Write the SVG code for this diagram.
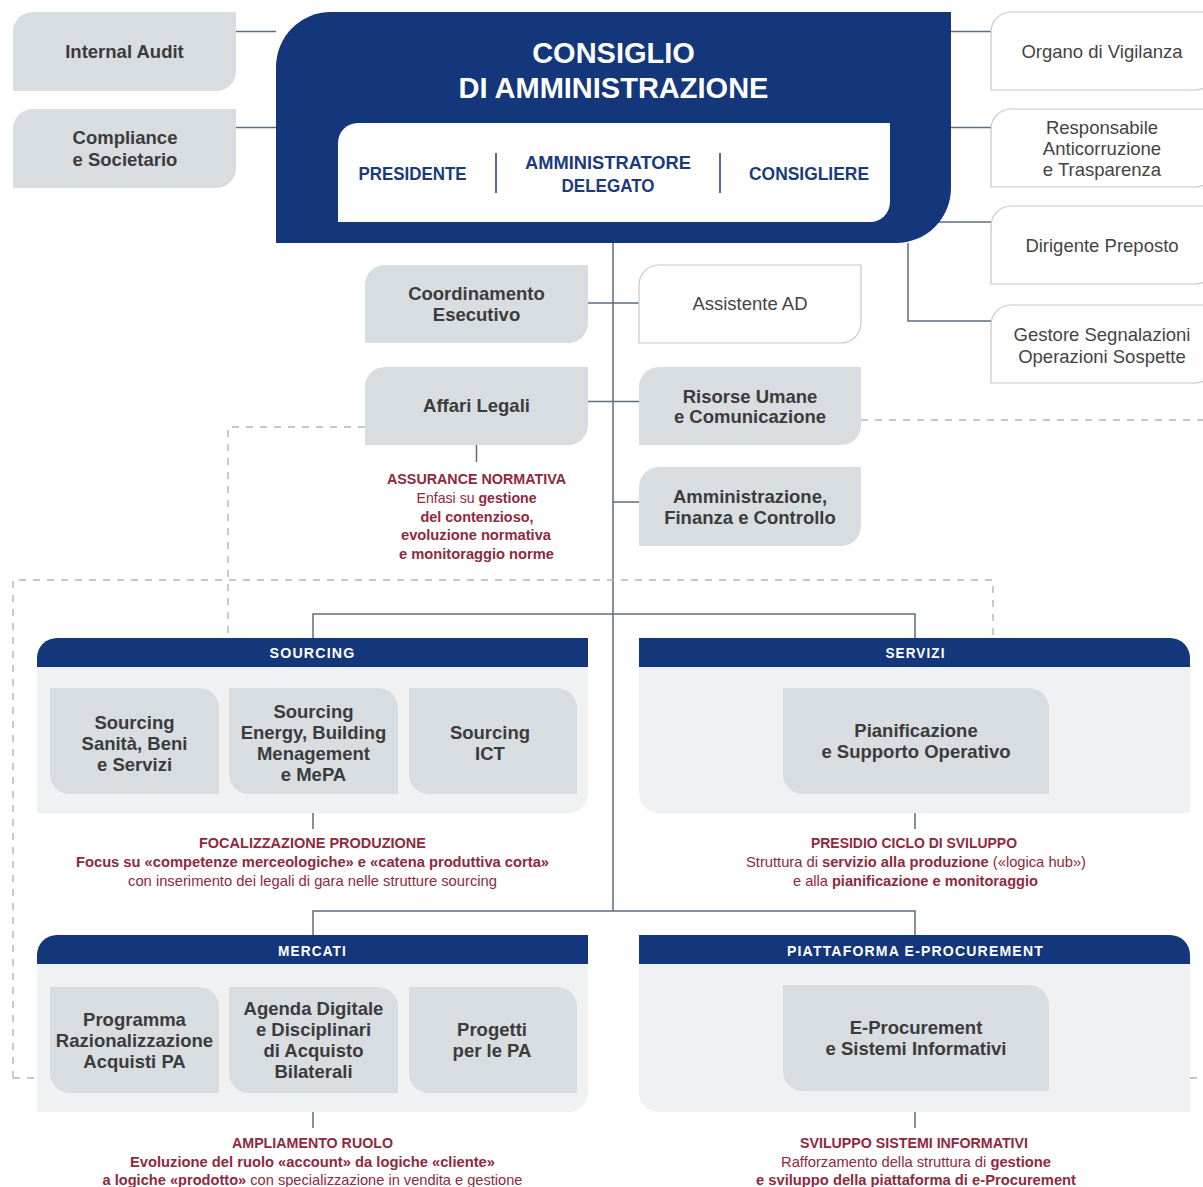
<svg xmlns="http://www.w3.org/2000/svg" width="1203" height="1187" viewBox="0 0 1203 1187">
<style>
text{font-family:"Liberation Sans",Arial,sans-serif;text-anchor:middle}
.nb{font-weight:bold;font-size:18.5px;fill:#3b3b3b}
.nr{font-size:18.5px;fill:#444}
.tt{font-weight:bold;font-size:29px;fill:#fff}
.cd{font-weight:bold;font-size:18px;fill:#1b3a7e}
.hd{font-weight:bold;font-size:14.5px;fill:#fff;letter-spacing:1.2px}
.rt{font-size:14.5px;fill:#8d2a3f}
.b{font-weight:bold}
.grey{fill:#d8dde2}
.wbox{fill:#fff;stroke:#c3c8ce;stroke-width:1.2}
.navy{fill:#14367b}
.panel{fill:#f0f1f3}
.ln{fill:none;stroke:#5f6e7e;stroke-width:1.5}
.ds{fill:none;stroke:#aeb5bf;stroke-width:1.4;stroke-dasharray:7 7}
.sep{stroke:#1b3a7e;stroke-width:1.5}
</style>

<g id="connectors">
<path class="ln" d="M236,31.5H276M236,127.5H276M951,31.5H991M951,127.5H991M930,222H991M908,243V321H991M613,243V911M588,303H639M588,401.5H639M613,502H639M476.5,445V462M313,638V614H915V638M313,935V911H915V935M313,813V829M915,813V829M313,1112V1128M915,1112V1128"/>
<path class="ds" d="M365,427H228V638M13,1078V580H993V638M13,1078H37M861,420H1203M1190,1078H1203"/>
</g>

<g id="internal-audit">
<path class="grey" d="M13,32A20,20 0 0 1 33,12H236V71A20,20 0 0 1 216,91H13Z"/>
<text class="nb" x="124.5" y="58">Internal Audit</text>
</g>
<g id="compliance">
<path class="grey" d="M13,129A20,20 0 0 1 33,109H236V168A20,20 0 0 1 216,188H13Z"/>
<text class="nb" x="125" y="144">Compliance</text>
<text class="nb" x="125" y="165.5">e Societario</text>
</g>

<g id="cda">
<path class="navy" d="M276,67A55,55 0 0 1 331,12H951V188A55,55 0 0 1 896,243H276Z"/>
<text class="tt" x="613.5" y="63">CONSIGLIO</text>
<text class="tt" x="613.5" y="98">DI AMMINISTRAZIONE</text>
<path fill="#fff" d="M338,143A20,20 0 0 1 358,123H890V202A20,20 0 0 1 870,222H338Z"/>
<text class="cd" x="412.5" y="180" textLength="108" lengthAdjust="spacingAndGlyphs">PRESIDENTE</text>
<line class="sep" x1="496" y1="153" x2="496" y2="193"/>
<text class="cd" x="608" y="168.5" textLength="166" lengthAdjust="spacingAndGlyphs">AMMINISTRATORE</text>
<text class="cd" x="608" y="191.7" textLength="93" lengthAdjust="spacingAndGlyphs">DELEGATO</text>
<line class="sep" x1="720" y1="153" x2="720" y2="193"/>
<text class="cd" x="809" y="180" textLength="120" lengthAdjust="spacingAndGlyphs">CONSIGLIERE</text>
</g>

<g id="organo-vigilanza">
<path class="wbox" d="M991,32A20,20 0 0 1 1011,12H1215V70A20,20 0 0 1 1195,90H991Z"/>
<text class="nr" x="1102" y="58">Organo di Vigilanza</text>
</g>
<g id="anticorruzione">
<path class="wbox" d="M991,129A20,20 0 0 1 1011,109H1215V167A20,20 0 0 1 1195,187H991Z"/>
<text class="nr" x="1102" y="133.5">Responsabile</text>
<text class="nr" x="1102" y="155">Anticorruzione</text>
<text class="nr" x="1102" y="175.5">e Trasparenza</text>
</g>
<g id="dirigente-preposto">
<path class="wbox" d="M991,226A20,20 0 0 1 1011,206H1215V264A20,20 0 0 1 1195,284H991Z"/>
<text class="nr" x="1102" y="251.5">Dirigente Preposto</text>
</g>
<g id="gestore-segnalazioni">
<path class="wbox" d="M991,325A20,20 0 0 1 1011,305H1215V363A20,20 0 0 1 1195,383H991Z"/>
<text class="nr" x="1102" y="340.5">Gestore Segnalazioni</text>
<text class="nr" x="1102" y="362.5">Operazioni Sospette</text>
</g>

<g id="coordinamento">
<path class="grey" d="M365,285A20,20 0 0 1 385,265H588V323A20,20 0 0 1 568,343H365Z"/>
<text class="nb" x="476.5" y="300">Coordinamento</text>
<text class="nb" x="476.5" y="320.7">Esecutivo</text>
</g>
<g id="assistente-ad">
<path class="wbox" d="M639,285A20,20 0 0 1 659,265H861V323A20,20 0 0 1 841,343H639Z"/>
<text class="nr" x="750" y="310">Assistente AD</text>
</g>
<g id="affari-legali">
<path class="grey" d="M365,387A20,20 0 0 1 385,367H588V425A20,20 0 0 1 568,445H365Z"/>
<text class="nb" x="476.5" y="412">Affari Legali</text>
</g>
<g id="risorse-umane">
<path class="grey" d="M639,387A20,20 0 0 1 659,367H861V425A20,20 0 0 1 841,445H639Z"/>
<text class="nb" x="750" y="402.5">Risorse Umane</text>
<text class="nb" x="750" y="423.3">e Comunicazione</text>
</g>
<g id="amministrazione">
<path class="grey" d="M639,487A20,20 0 0 1 659,467H861V526A20,20 0 0 1 841,546H639Z"/>
<text class="nb" x="750" y="502.5">Amministrazione,</text>
<text class="nb" x="750" y="524">Finanza e Controllo</text>
</g>

<g id="assurance-note">
<text class="rt b" x="476.5" y="484" textLength="179" lengthAdjust="spacingAndGlyphs">ASSURANCE NORMATIVA</text>
<text class="rt" x="476.5" y="502.5" textLength="120" lengthAdjust="spacingAndGlyphs">Enfasi su <tspan class="b">gestione</tspan></text>
<text class="rt b" x="477" y="521.5" textLength="113" lengthAdjust="spacingAndGlyphs">del contenzioso,</text>
<text class="rt b" x="476" y="540" textLength="150" lengthAdjust="spacingAndGlyphs">evoluzione normativa</text>
<text class="rt b" x="476.5" y="558.5" textLength="155" lengthAdjust="spacingAndGlyphs">e monitoraggio norme</text>
</g>

<g id="sourcing">
<path class="panel" d="M37,667H588V793A20,20 0 0 1 568,813H37Z"/>
<path class="navy" d="M37,667V658A20,20 0 0 1 57,638H588V667Z"/>
<text class="hd" x="312.5" y="658" textLength="86" lengthAdjust="spacingAndGlyphs">SOURCING</text>
<g id="sourcing-sanita">
<path class="grey" d="M50,688H199A20,20 0 0 1 219,708V794H70A20,20 0 0 1 50,774Z"/>
<text class="nb" x="134.5" y="729.3">Sourcing</text>
<text class="nb" x="134.5" y="750">Sanità, Beni</text>
<text class="nb" x="134.5" y="770.7">e Servizi</text>
</g>
<g id="sourcing-energy">
<path class="grey" d="M229,688H378A20,20 0 0 1 398,708V794H249A20,20 0 0 1 229,774Z"/>
<text class="nb" x="313.5" y="718.3">Sourcing</text>
<text class="nb" x="313.5" y="739.3">Energy, Building</text>
<text class="nb" x="313.5" y="760">Menagement</text>
<text class="nb" x="313.5" y="781">e MePA</text>
</g>
<g id="sourcing-ict">
<path class="grey" d="M409,688H557A20,20 0 0 1 577,708V794H429A20,20 0 0 1 409,774Z"/>
<text class="nb" x="490" y="739.3">Sourcing</text>
<text class="nb" x="490" y="760">ICT</text>
</g>
</g>
<g id="sourcing-note">
<text class="rt b" x="312.5" y="848" textLength="227" lengthAdjust="spacingAndGlyphs">FOCALIZZAZIONE PRODUZIONE</text>
<text class="rt b" x="312.5" y="866.5" textLength="473" lengthAdjust="spacingAndGlyphs">Focus su «competenze merceologiche» e «catena produttiva corta»</text>
<text class="rt" x="312.5" y="885.5" textLength="369" lengthAdjust="spacingAndGlyphs">con inserimento dei legali di gara nelle strutture sourcing</text>
</g>

<g id="servizi">
<path class="panel" d="M639,667H1190V813H659A20,20 0 0 1 639,793Z"/>
<path class="navy" d="M639,667V638H1170A20,20 0 0 1 1190,658V667Z"/>
<text class="hd" x="915.5" y="658" textLength="60" lengthAdjust="spacingAndGlyphs">SERVIZI</text>
<g id="pianificazione">
<path class="grey" d="M783,688H1029A20,20 0 0 1 1049,708V794H803A20,20 0 0 1 783,774Z"/>
<text class="nb" x="916" y="736.7">Pianificazione</text>
<text class="nb" x="916" y="757.7">e Supporto Operativo</text>
</g>
</g>
<g id="servizi-note">
<text class="rt b" x="914" y="848" textLength="206" lengthAdjust="spacingAndGlyphs">PRESIDIO CICLO DI SVILUPPO</text>
<text class="rt" x="916" y="866.5" textLength="340" lengthAdjust="spacingAndGlyphs">Struttura di <tspan class="b">servizio alla produzione</tspan> («logica hub»)</text>
<text class="rt" x="915.5" y="885.5" textLength="245" lengthAdjust="spacingAndGlyphs">e alla <tspan class="b">pianificazione e monitoraggio</tspan></text>
</g>

<g id="mercati">
<path class="panel" d="M37,964H588V1092A20,20 0 0 1 568,1112H37Z"/>
<path class="navy" d="M37,964V955A20,20 0 0 1 57,935H588V964Z"/>
<text class="hd" x="312.5" y="955.5" textLength="69" lengthAdjust="spacingAndGlyphs">MERCATI</text>
<g id="programma-razionalizzazione">
<path class="grey" d="M50,987H199A20,20 0 0 1 219,1007V1093H70A20,20 0 0 1 50,1073Z"/>
<text class="nb" x="134.5" y="1025.5">Programma</text>
<text class="nb" x="134.5" y="1046.7">Razionalizzazione</text>
<text class="nb" x="134.5" y="1067.7">Acquisti PA</text>
</g>
<g id="agenda-digitale">
<path class="grey" d="M229,987H378A20,20 0 0 1 398,1007V1093H249A20,20 0 0 1 229,1073Z"/>
<text class="nb" x="313.5" y="1015">Agenda Digitale</text>
<text class="nb" x="313.5" y="1036">e Disciplinari</text>
<text class="nb" x="313.5" y="1056.7">di Acquisto</text>
<text class="nb" x="313.5" y="1077.7">Bilaterali</text>
</g>
<g id="progetti-pa">
<path class="grey" d="M409,987H557A20,20 0 0 1 577,1007V1093H429A20,20 0 0 1 409,1073Z"/>
<text class="nb" x="492" y="1036">Progetti</text>
<text class="nb" x="492" y="1056.7">per le PA</text>
</g>
</g>
<g id="mercati-note">
<text class="rt b" x="312.5" y="1148" textLength="161" lengthAdjust="spacingAndGlyphs">AMPLIAMENTO RUOLO</text>
<text class="rt b" x="312.5" y="1166.5" textLength="365" lengthAdjust="spacingAndGlyphs">Evoluzione del ruolo «account» da logiche «cliente»</text>
<text class="rt" x="312.5" y="1185" textLength="420" lengthAdjust="spacingAndGlyphs"><tspan class="b">a logiche «prodotto»</tspan> con specializzazione in vendita e gestione</text>
</g>

<g id="piattaforma">
<path class="panel" d="M639,964H1190V1112H659A20,20 0 0 1 639,1092Z"/>
<path class="navy" d="M639,964V935H1170A20,20 0 0 1 1190,955V964Z"/>
<text class="hd" x="915.5" y="955.5" textLength="257" lengthAdjust="spacingAndGlyphs">PIATTAFORMA E-PROCUREMENT</text>
<g id="e-procurement">
<path class="grey" d="M783,985H1029A20,20 0 0 1 1049,1005V1091H803A20,20 0 0 1 783,1071Z"/>
<text class="nb" x="916" y="1034">E-Procurement</text>
<text class="nb" x="916" y="1055">e Sistemi Informativi</text>
</g>
</g>
<g id="piattaforma-note">
<text class="rt b" x="914" y="1148" textLength="228" lengthAdjust="spacingAndGlyphs">SVILUPPO SISTEMI INFORMATIVI</text>
<text class="rt" x="916" y="1166.5" textLength="270" lengthAdjust="spacingAndGlyphs">Rafforzamento della struttura di <tspan class="b">gestione</tspan></text>
<text class="rt b" x="916" y="1185" textLength="320" lengthAdjust="spacingAndGlyphs">e sviluppo della piattaforma di e-Procurement</text>
</g>
</svg>
